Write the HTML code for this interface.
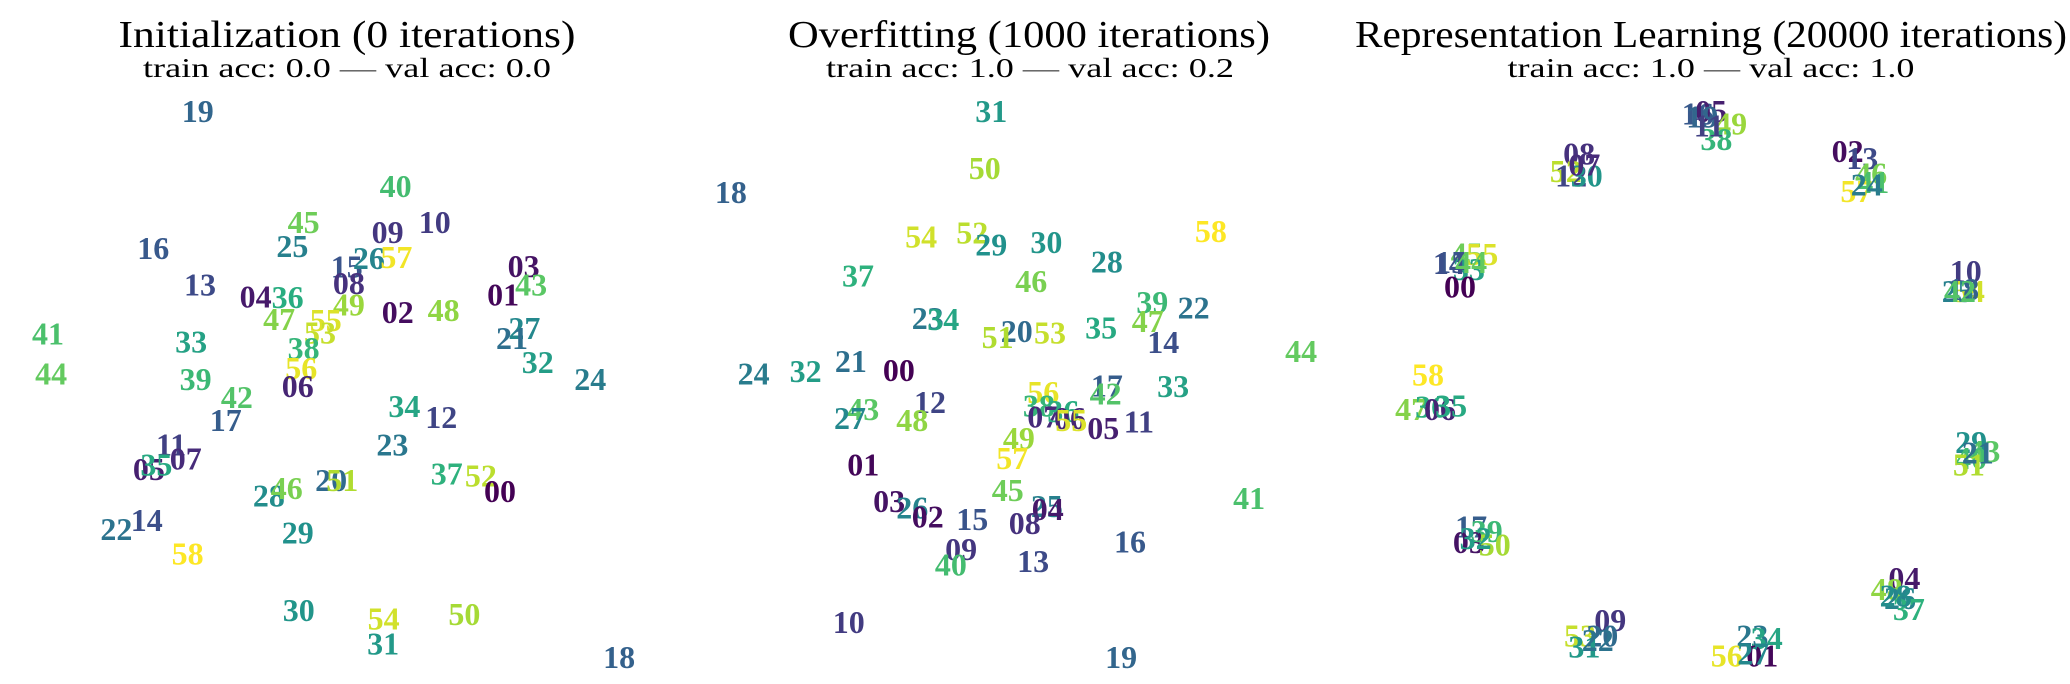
<!DOCTYPE html>
<html><head><meta charset="utf-8">
<style>
html,body{margin:0;padding:0;background:#fff;}
svg{display:block;}
.t{font-family:"Liberation Serif",serif;fill:#000;text-anchor:middle;}
.lbl{font-family:"Liberation Serif",serif;font-weight:bold;font-size:32px;text-anchor:middle;dominant-baseline:central;}
</style></head>
<body>
<svg id="chart" width="2070" height="684" viewBox="0 0 2070 684" xmlns="http://www.w3.org/2000/svg">
  <g>
    <text class="t" x="347" y="47" font-size="38" textLength="457" lengthAdjust="spacingAndGlyphs">Initialization (0 iterations)</text>
    <text class="t" x="347" y="77" font-size="27" textLength="408" lengthAdjust="spacingAndGlyphs">train acc: 0.0 <tspan fill="#555">—</tspan> val acc: 0.0</text>
    <g id="p0"></g>
  </g>
  <g>
    <text class="t" x="1029" y="47" font-size="38" textLength="482" lengthAdjust="spacingAndGlyphs">Overfitting (1000 iterations)</text>
    <text class="t" x="1030" y="77" font-size="27" textLength="408" lengthAdjust="spacingAndGlyphs">train acc: 1.0 <tspan fill="#555">—</tspan> val acc: 0.2</text>
    <g id="p1"></g>
  </g>
  <g>
    <text class="t" x="1711" y="47" font-size="38" textLength="712" lengthAdjust="spacingAndGlyphs">Representation Learning (20000 iterations)</text>
    <text class="t" x="1711" y="77" font-size="27" textLength="407" lengthAdjust="spacingAndGlyphs">train acc: 1.0 <tspan fill="#555">—</tspan> val acc: 1.0</text>
    <g id="p2"></g>
  </g>
</svg>
<script>
// Panel 1: Initialization
const labels0 = ["19","40","45","09","10","16","25","15","26","57","03","43","13","04","36","08","01","49","02","48","47","55","53","41","33","27","21","38","32","56","44","39","24","06","42","34","12","17","23","11","05","35","07","20","51","37","52","00","28","46","22","14","29","58","30","54","50","31","18"];
const xs0 = [445,890,683,872,978,345,658,780,830,892,1178,1195,450,575,647,785,1132,785,895,998,628,733,720,108,430,1180,1152,683,1210,678,115,440,1328,670,533,910,993,508,883,385,335,352,418,745,770,1005,1082,1125,605,645,262,330,670,422,672,863,1045,862,1393];
const ys0 = [250,418,500,522,500,558,553,600,580,578,598,640,640,667,668,637,663,685,702,698,718,720,748,750,768,738,760,783,815,828,840,853,853,868,893,913,938,945,1000,1000,1055,1045,1032,1080,1080,1065,1070,1105,1115,1098,1190,1170,1198,1245,1372,1392,1382,1448,1478];

// Panel 2: Overfitting
const labels1 = ["31","50","18","54","52","29","30","58","28","37","46","39","22","23","34","35","47","20","53","51","14","44","24","32","21","00","56","17","42","33","12","38","43","27","48","07","36","06","55","05","11","49","57","01","45","41","03","26","02","15","25","04","08","16","09","40","13","10","19"];
const xs1 = [678,663,92,520,635,678,802,1172,938,378,768,1040,1133,535,570,925,1030,735,810,692,1065,1375,143,260,362,470,795,938,935,1087,540,785,390,360,500,795,840,855,858,930,1010,740,725,390,715,1258,448,500,535,635,803,805,753,990,610,587,772,357,970];
const ys1 = [250,378,432,532,523,550,545,520,588,620,632,680,692,715,718,737,722,745,748,758,770,790,840,835,812,833,882,867,885,868,905,912,920,940,945,937,925,940,945,963,948,985,1030,1045,1103,1120,1127,1142,1162,1168,1138,1145,1177,1218,1235,1270,1262,1400,1478];

// Panel 3: Representation Learning
const labels2 = ["16","05","49","38","19","11","08","52","12","30","07","02","13","46","57","41","24","45","55","15","33","00","14","44","10","54","25","18","42","58","47","36","06","35","29","43","40","51","21","17","03","39","50","32","04","48","26","37","28","09","53","20","31","22","23","34","56","01","27"];
const xs2 = [715,745,790,757,725,740,448,418,430,465,460,1052,1085,1105,1072,1110,1095,195,230,160,200,180,155,205,1318,1325,1300,1312,1305,108,70,115,135,160,1330,1360,1330,1325,1345,205,200,240,258,215,1180,1140,1170,1190,1160,518,450,500,460,490,838,870,780,860,840];
const ys2 = [255,250,278,313,262,282,345,385,395,395,370,340,355,390,430,410,415,570,572,590,605,645,592,590,610,655,655,650,655,843,920,915,920,912,995,1015,1030,1045,1018,1185,1220,1195,1225,1210,1300,1325,1345,1370,1340,1395,1430,1430,1455,1440,1430,1435,1475,1475,1470];

const panelOffset = [0, 690, 1380];
const unitScale = 1/2.25;
function xAxis(p, v){ return panelOffset[p] + v*unitScale; }
function yAxis(v){ return v*unitScale; }

const vir = [[68,1,84],[71,45,123],[59,82,139],[44,114,142],[33,145,140],[40,174,128],[94,201,98],[173,220,48],[253,231,37]];
function viridis(t){
  t = Math.max(0, Math.min(1, t));
  const f = t*(vir.length-1), i = Math.min(vir.length-2, Math.floor(f)), r = f - i;
  const c = vir[i].map((a,k)=>Math.round(a + (vir[i+1][k]-a)*r));
  return "rgb("+c.join(",")+")";
}

const NS = "http://www.w3.org/2000/svg";
const panels = [[labels0,xs0,ys0],[labels1,xs1,ys1],[labels2,xs2,ys2]];
panels.forEach(function(pd, p){
  const g = document.getElementById("p"+p);
  const L = pd[0], X = pd[1], Y = pd[2];
  for (let i = 0; i < L.length; i++){
    const t = document.createElementNS(NS, "text");
    t.setAttribute("class", "lbl");
    t.setAttribute("x", xAxis(p, X[i]).toFixed(1));
    t.setAttribute("y", yAxis(Y[i]).toFixed(1));
    t.setAttribute("fill", viridis(parseInt(L[i], 10)/58));
    
    
    t.textContent = L[i];
    g.appendChild(t);
  }
});
</script>
</body></html>
